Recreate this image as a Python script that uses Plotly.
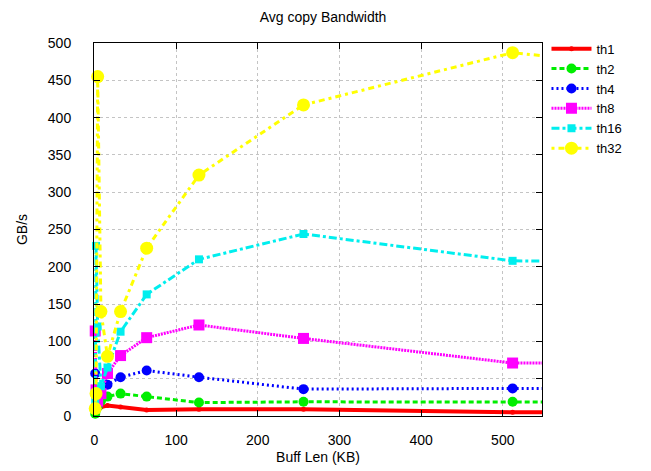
import plotly.graph_objects as go

buff_len = [1, 2, 4, 8, 16, 32, 64, 128, 256, 512, 1024]
th1 = [2, 4, 8, 12, 14, 12, 8, 9, 9, 5, 5]
th2 = [3, 8, 12, 20, 26, 30, 26, 18, 19, 19, 18]
th4 = [57, 10, 15, 30, 42, 52, 61, 52, 36, 37, 37]
th8 = [114, 35, 20, 30, 57, 81, 105, 122, 104, 71, 70]
th16 = [20, 228, 120, 40, 65, 113, 163, 210, 244, 208, 202]
th32 = [10, 30, 455, 140, 80, 140, 225, 323, 417, 487, 430]

series = [
    ("th1", th1, "#ff0000", 4, "solid", "circle", 5),
    ("th2", th2, "#00ee00", 3, "5px,3px", "circle", 10),
    ("th4", th4, "#0000ff", 3, "2px,3px", "circle", 10),
    ("th8", th8, "#ff00ff", 3, "2px,1px", "square", 11),
    ("th16", th16, "#00eeee", 3, "8px,3px,3px,3px", "square", 8),
    ("th32", th32, "#ffff00", 3, "3px,4px,6px,4px", "circle", 13),
]

fig = go.Figure()
for name, vals, color, w, dash, sym, size in series:
    fig.add_trace(go.Scatter(
        x=buff_len, y=vals, name=name, mode="lines+markers",
        line=dict(color=color, width=w, dash=dash),
        marker=dict(color=color, symbol=sym, size=size),
        cliponaxis=False,
    ))

font = "Liberation Sans, Arial, sans-serif"
axis_common = dict(
    showline=True, linecolor="black", linewidth=1, mirror="ticks",
    ticks="inside", ticklen=6, tickcolor="black",
    showgrid=True, gridcolor="#c4c4c4", griddash="dot", gridwidth=1,
    zeroline=False, automargin=False,
    tickfont=dict(size=14, color="black", family=font),
)
fig.update_xaxes(range=[-0.5, 548], tickvals=[0, 100, 200, 300, 400, 500],
                 title=dict(text="Buff Len (KB)", font=dict(size=14, family=font), standoff=5),
                 ticklabelstandoff=11, **axis_common)
fig.update_yaxes(range=[0, 500], tickvals=list(range(0, 501, 50)),
                 title=dict(text="GB/s", font=dict(size=14, family=font), standoff=16),
                 ticklabelstandoff=19, **axis_common)

fig.update_layout(
    width=643, height=463,
    margin=dict(l=86, r=109, t=35, b=55),
    paper_bgcolor="white", plot_bgcolor="white",
    title=dict(text="Avg copy Bandwidth", x=0.49, xanchor="center", y=0.98, yanchor="middle",
               font=dict(size=14, color="black", family=font)),
    font=dict(family=font, color="black"),
    legend=dict(x=1.01, y=1.025, xanchor="left", yanchor="top",
                font=dict(size=13, family=font), tracegroupgap=0,
                itemwidth=40, bgcolor="rgba(0,0,0,0)"),
    showlegend=True,
)

fig.write_html("out.html")
